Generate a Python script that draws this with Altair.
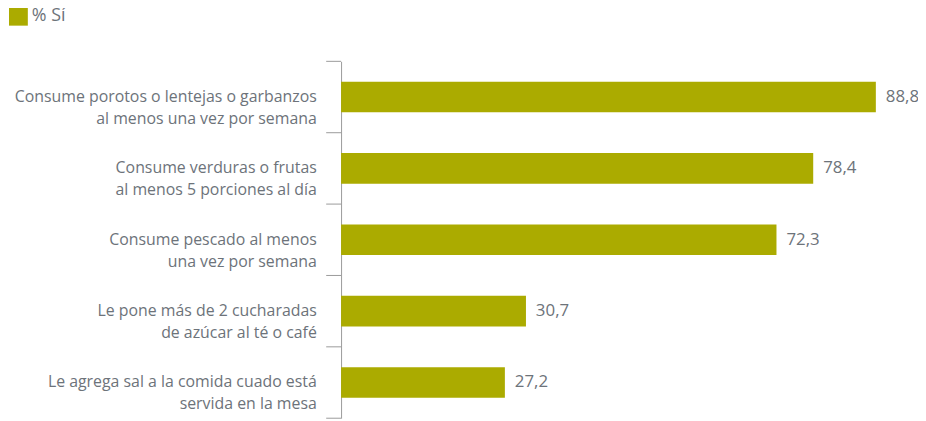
import altair as alt
import pandas as pd

categories = [
    "Consume porotos o lentejas o garbanzos|al menos una vez por semana",
    "Consume verduras o frutas|al menos 5 porciones al día",
    "Consume pescado al menos|una vez por semana",
    "Le pone más de 2 cucharadas|de azúcar al té o café",
    "Le agrega sal a la comida cuado está|servida en la mesa",
]
values = [88.8, 78.4, 72.3, 30.7, 27.2]
series_name = "% Sí"

df = pd.DataFrame({"cat": categories, "val": values, "serie": [series_name] * len(values)})

FONT = "Open Sans"
GRAY = "#6d737a"
BAR = "#abab00"
AXIS_GRAY = "#9a9a9a"

y = alt.Y(
    "cat:N",
    sort=categories,
    title=None,
    scale=alt.Scale(paddingInner=0.57, paddingOuter=0.285),
    axis=alt.Axis(
        labelExpr="split(datum.label, '|')",
        labelFont=FONT,
        labelFontSize=16,
        labelColor=GRAY,
        labelLineHeight=22,
        labelPadding=25,
        labelLimit=400,
        ticks=False,
        domainColor=AXIS_GRAY,
        domainWidth=1,
    ),
)

x = alt.X("val:Q", title=None, scale=alt.Scale(domain=[0, 95.8], nice=False), axis=None)

base = alt.Chart(df).encode(y=y, x=x)

bars = base.mark_bar().encode(
    color=alt.Color(
        "serie:N",
        scale=alt.Scale(domain=[series_name], range=[BAR]),
        legend=alt.Legend(
            title=None,
            orient="none",
            legendX=-335,
            legendY=-55,
            symbolType="square",
            symbolSize=361,
            symbolStrokeWidth=0,
            labelFont=FONT,
            labelFontSize=18,
            labelColor=GRAY,
            labelOffset=4,
            labelLimit=200,
        ),
    ),
)

text = base.transform_calculate(
    lbl="replace(format(datum.val, '.1f'), '.', ',')"
).mark_text(align="left", baseline="middle", dx=10, font=FONT, fontSize=17, color=GRAY).encode(
    text="lbl:N",
)

main = alt.layer(bars, text)

# tick marks on category boundaries (band scale without padding)
y_edge_scale = alt.Scale(paddingInner=0, paddingOuter=0)
ticks_top = alt.Chart(df).mark_rule(color=AXIS_GRAY, strokeWidth=1).encode(
    y=alt.Y("cat:N", sort=categories, bandPosition=0, scale=y_edge_scale, axis=None),
    x=alt.value(-15),
    x2=alt.value(0),
)
ticks_bottom = alt.Chart(df).transform_filter(
    alt.datum.cat == categories[-1]
).mark_rule(color=AXIS_GRAY, strokeWidth=1).encode(
    y=alt.Y("cat:N", sort=categories, bandPosition=1, scale=y_edge_scale, axis=None),
    x=alt.value(-15),
    x2=alt.value(0),
)
ticks = alt.layer(ticks_top, ticks_bottom)

chart = (
    alt.layer(main, ticks)
    .resolve_scale(y="independent")
    .properties(
        width=582,
        height=360,
        autosize=alt.AutoSizeParams(type="none"),
        padding={"left": 336, "top": 52, "right": 0, "bottom": 0},
    )
    .configure_view(stroke=None)
)

chart.save("out.html", embed_options={"renderer": "svg", "actions": False})
